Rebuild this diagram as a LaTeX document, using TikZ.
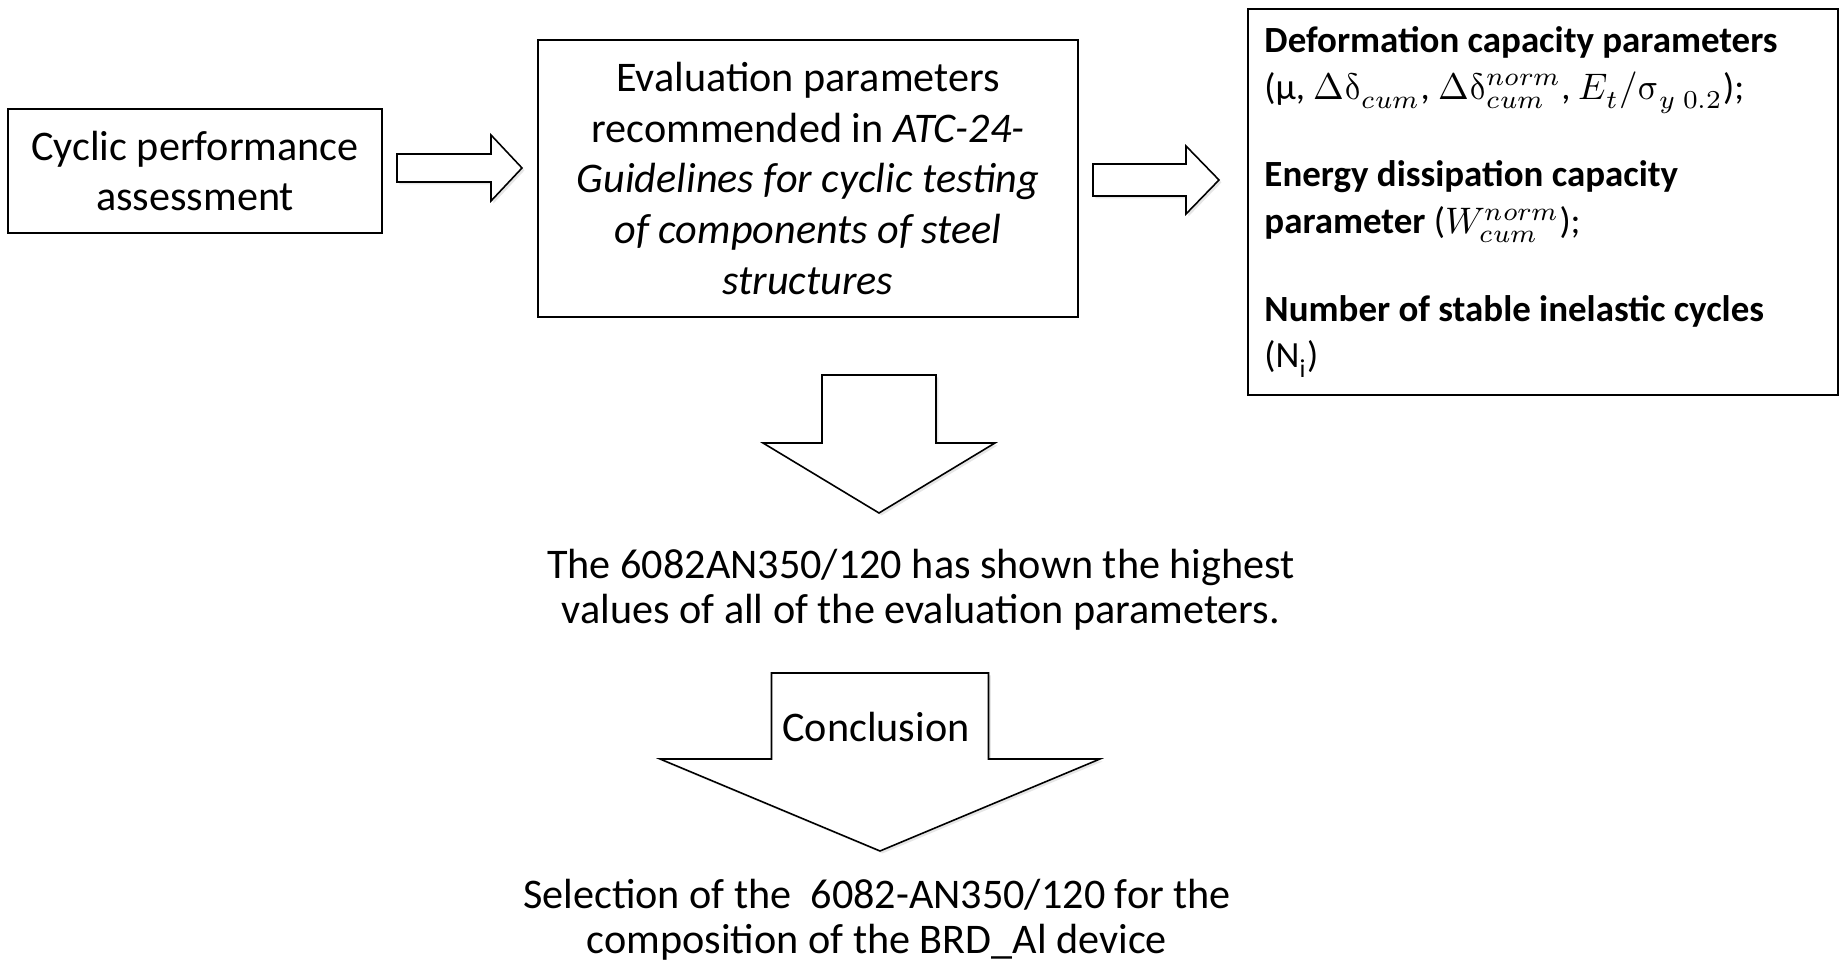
\documentclass[tikz,border=0pt]{standalone}
\usepackage{fontspec}
\usepackage{unicode-math}
\setmainfont{Carlito}
\setmathfont{Latin Modern Math}
\usetikzlibrary{positioning, shadows}

\tikzset{
  box/.style={draw, line width=0.6pt, align=center, inner sep=0pt, font=\fontsize{12}{14.4}\selectfont},
  note/.style={align=center, font=\fontsize{12}{12.75}\selectfont},
  blockarr/.style={draw, line width=0.45pt, fill=white, line join=miter,
    drop shadow={shadow xshift=0.7pt, shadow yshift=-0.7pt, opacity=0.2}}
}

% right pointing block arrow: tail x, neck x, tip x, mid y, half shaft, half head
\newcommand{\rblock}[6]{%
  \draw[blockarr] (#1,#4-#5) -- (#2,#4-#5) -- (#2,#4-#6) -- (#3,#4)
    -- (#2,#4+#6) -- (#2,#4+#5) -- (#1,#4+#5) -- cycle;}
% down pointing block arrow: mid x, top y, neck y, tip y, half shaft, half head
\newcommand{\dblock}[6]{%
  \draw[blockarr] (#1-#5,#2) -- (#1+#5,#2) -- (#1+#5,#3) -- (#1+#6,#3)
    -- (#1,#4) -- (#1-#6,#3) -- (#1-#5,#3) -- cycle;}

\begin{document}
\begin{tikzpicture}[x=0.01cm, y=-0.01cm]
  \useasboundingbox (0,0) rectangle (1841,968);

  % top row
  \node[box, minimum width=3.74cm, minimum height=1.24cm] (assess) at (195,171)
    {Cyclic performance\\assessment};
  \node[box, minimum width=5.40cm, minimum height=2.77cm] (eval) at (808,178.5)
    {Evaluation parameters\\recommended in \textit{ATC-24-}\\\textit{Guidelines for cyclic testing}\\
     \textit{of components of steel}\\\textit{structures}};
  \node[draw, line width=0.6pt, minimum width=5.90cm, minimum height=3.86cm, inner sep=0pt] (params) at (1543,202) {};
  \node[below right=0.18cm and 0.17cm of params.north west, align=left, inner sep=0pt,
        font=\fontsize{10.5}{13.3}\selectfont] (paramtext)
    {\textbf{Deformation capacity parameters}\\
     (μ, $\Delta\symup{\delta}_{cum}$, $\Delta\symup{\delta}^{norm}_{cum}$, $E_t/\symup{\sigma}_{y\ 0.2}$);\\[11.6pt]
     \textbf{Energy dissipation capacity}\\
     \textbf{parameter} ($W^{norm}_{cum}$);\\[11.6pt]
     \textbf{Number of stable inelastic cycles}\\
     (N\textsubscript{i})};

  \rblock{397}{491}{522}{168}{14}{33}
  \rblock{1093}{1186}{1219}{180}{16}{34}

  % going down
  \dblock{879}{375}{443}{513}{57}{116}
  \node[note] (result) at (921,590)
    {The 6082AN350/120 has shown the highest\\values of all of the evaluation parameters.};

  \dblock{880}{673}{759}{851}{108.5}{220}
  \node[anchor=base, font=\fontsize{12}{14.4}\selectfont] (concl) at (876,742) {Conclusion};

  \node[note] (select) at (877,920)
    {Selection of the \ 6082-AN350/120 for the\\composition of the BRD\_Al device};
\end{tikzpicture}
\end{document}
